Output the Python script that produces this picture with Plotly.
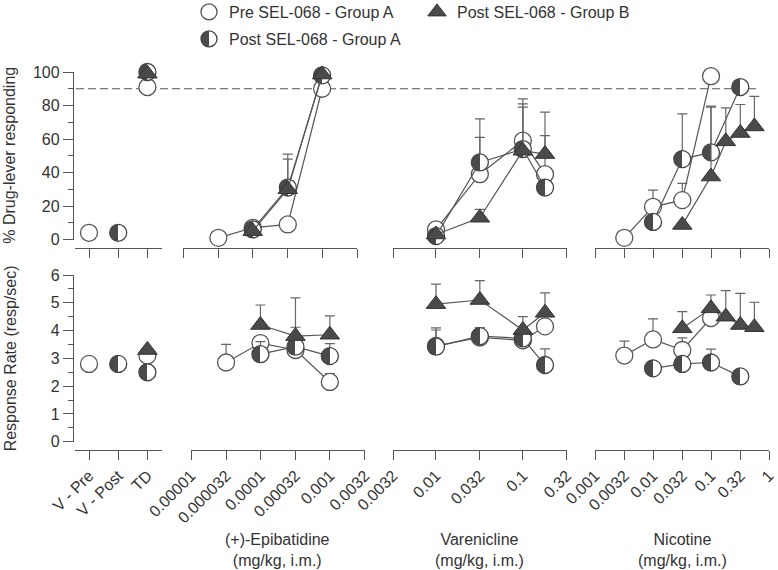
import math
import plotly.graph_objects as go

# ------------------------------------------------------------------ data
ctrl_labels = ["V - Pre", "V - Post", "TD"]

epi_ticks = [0.00001, 0.000032, 0.0001, 0.00032, 0.001, 0.0032]
epi_ticktext = ["0.00001", "0.000032", "0.0001", "0.00032", "0.001", "0.0032"]
var_ticks = [0.0032, 0.01, 0.032, 0.1, 0.32]
var_ticktext = ["0.0032", "0.01", "0.032", "0.1", "0.32"]
nic_ticks = [0.001, 0.0032, 0.01, 0.032, 0.1, 0.32, 1]
nic_ticktext = ["0.001", "0.0032", "0.01", "0.032", "0.1", "0.32", "1"]

# controls
ctrl_preA_x = ["V - Pre", "TD"]
ctrl_preA_pct = [4, 91]
ctrl_preA_rate = [2.8, 3.1]
ctrl_postA_x = ["V - Post", "TD"]
ctrl_postA_pct = [4, 100]
ctrl_postA_rate = [2.8, 2.5]
ctrl_postB_x = ["TD"]
ctrl_postB_pct = [99]
ctrl_postB_rate = [3.3]

# (+)-Epibatidine
epi_preA_dose = [0.000032, 0.0001, 0.00032, 0.001]
epi_preA_pct = [1, 7, 9, 90]
epi_preA_pct_err = [0, 0, 0, 0]
epi_preA_rate = [2.85, 3.55, 3.3, 2.15]
epi_preA_rate_err = [0.65, 0.2, 0, 0.3]

epi_postA_dose = [0.0001, 0.00032, 0.001]
epi_postA_pct = [6, 31, 98]
epi_postA_pct_err = [0, 17, 0]
epi_postA_rate = [3.15, 3.42, 3.08]
epi_postA_rate_err = [0.45, 0.7, 0.45]

epi_postB_dose = [0.0001, 0.00032, 0.001]
epi_postB_pct = [5, 30, 98.5]
epi_postB_pct_err = [0, 21, 0]
epi_postB_rate = [4.2, 3.8, 3.85]
epi_postB_rate_err = [0.72, 1.38, 0.68]

# Varenicline
var_preA_dose = [0.01, 0.032, 0.1, 0.18]
var_preA_pct = [6, 39, 59, 39]
var_preA_pct_err = [0, 22, 25, 23]
var_preA_rate = [3.45, 3.75, 3.65, 4.15]
var_preA_rate_err = [0.65, 0.35, 0.3, 0]

var_postA_dose = [0.01, 0.032, 0.1, 0.18]
var_postA_pct = [2, 46, 54, 31]
var_postA_pct_err = [0, 26, 27, 0]
var_postA_rate = [3.42, 3.8, 3.72, 2.76]
var_postA_rate_err = [0.6, 0.3, 0, 0.58]

var_postB_dose = [0.01, 0.032, 0.1, 0.18]
var_postB_pct = [3, 13, 53, 51]
var_postB_pct_err = [0, 5, 26, 25]
var_postB_rate = [4.95, 5.1, 4.02, 4.64]
var_postB_rate_err = [0.72, 0.7, 0.48, 0.72]

# Nicotine
nic_preA_dose = [0.0032, 0.01, 0.032, 0.1]
nic_preA_pct = [1, 19.5, 23.5, 97.5]
nic_preA_pct_err = [0, 10, 10, 0]
nic_preA_rate = [3.1, 3.68, 3.3, 4.45]
nic_preA_rate_err = [0.52, 0.74, 0.44, 0]

nic_postA_dose = [0.01, 0.032, 0.1, 0.32]
nic_postA_pct = [10.5, 48, 52, 91]
nic_postA_pct_err = [0, 27, 27, 4]
nic_postA_rate = [2.64, 2.8, 2.85, 2.35]
nic_postA_rate_err = [0, 0, 0.48, 0]

nic_postB_dose = [0.032, 0.1, 0.18, 0.32, 0.56]
nic_postB_pct = [8.7, 37.6, 58.6, 63.6, 67.5]
nic_postB_pct_err = [0, 42, 20, 17, 18]
nic_postB_rate = [4.08, 4.8, 4.5, 4.2, 4.12]
nic_postB_rate_err = [0.6, 0.48, 0.94, 1.14, 0.9]

series_names = ["Pre SEL-068 - Group A", "Post SEL-068 - Group A", "Post SEL-068 - Group B"]

# ------------------------------------------------------------------ layout geometry (pixels)
W, H = 778, 570
ML, MR, MT, MB = 73, 9, 72, 120
PW, PH = W - ML - MR, H - MT - MB


def px_x(p):
    return (p - ML) / PW


def px_y(p):
    return (H - MB - p) / PH


AX = "#555555"
TXT = "#333333"
DARK = "#4a4a4a"
FONT = "Liberation Sans, Arial, sans-serif"

styles = {
    "preA": dict(symbol="circle", size=17, color="white", line=dict(color="#555555", width=1.3)),
    "postA": dict(symbol="circle", size=17, color=DARK, line=dict(color="#444444", width=1.3),
                  gradient=dict(type="horizontal", color="white")),
    "postB": dict(symbol="triangle-up", size=17, color=DARK, line=dict(color="#333333", width=1)),
}

fig = go.Figure()


def add(group, xs, ys, errs, xa, ya, lines=True, legend=None, name=None):
    err = None
    if errs is not None and any(e > 0 for e in errs):
        err = dict(type="data", symmetric=False, array=errs, arrayminus=[0] * len(errs),
                   color="#666666", thickness=1.2, width=5)
    fig.add_trace(go.Scatter(
        x=xs, y=ys, xaxis=xa, yaxis=ya,
        mode="lines+markers" if lines else "markers",
        marker=styles[group],
        line=dict(color="#555555", width=1.2),
        error_y=err,
        cliponaxis=False,
        showlegend=legend is not None,
        legend=legend if legend else "legend",
        name=name if name else group,
        hoverinfo="skip",
    ))


groups = [
    ("preA", ctrl_preA_x, ctrl_preA_pct, ctrl_preA_rate,
     [(epi_preA_dose, epi_preA_pct, epi_preA_pct_err, epi_preA_rate, epi_preA_rate_err),
      (var_preA_dose, var_preA_pct, var_preA_pct_err, var_preA_rate, var_preA_rate_err),
      (nic_preA_dose, nic_preA_pct, nic_preA_pct_err, nic_preA_rate, nic_preA_rate_err)],
     "legend", series_names[0]),
    ("postA", ctrl_postA_x, ctrl_postA_pct, ctrl_postA_rate,
     [(epi_postA_dose, epi_postA_pct, epi_postA_pct_err, epi_postA_rate, epi_postA_rate_err),
      (var_postA_dose, var_postA_pct, var_postA_pct_err, var_postA_rate, var_postA_rate_err),
      (nic_postA_dose, nic_postA_pct, nic_postA_pct_err, nic_postA_rate, nic_postA_rate_err)],
     "legend3", series_names[1]),
    ("postB", ctrl_postB_x, ctrl_postB_pct, ctrl_postB_rate,
     [(epi_postB_dose, epi_postB_pct, epi_postB_pct_err, epi_postB_rate, epi_postB_rate_err),
      (var_postB_dose, var_postB_pct, var_postB_pct_err, var_postB_rate, var_postB_rate_err),
      (nic_postB_dose, nic_postB_pct, nic_postB_pct_err, nic_postB_rate, nic_postB_rate_err)],
     "legend2", series_names[2]),
]

for g, cx, cpct, crate, drugs, leg, nm in groups:
    add(g, cx, cpct, None, "x", "y", lines=False, legend=leg, name=nm)
    add(g, cx, crate, None, "x5", "y2", lines=False)
    for i, (d, pct, pe, rate, re) in enumerate(drugs):
        add(g, d, pct, pe, "x%d" % (i + 2), "y")
        add(g, d, rate, re, "x%d" % (i + 6), "y2")

# axes
common = dict(showline=True, linecolor=AX, linewidth=1.3, ticks="outside", tickcolor=AX,
              tickwidth=1.3, ticklen=9, showgrid=False, zeroline=False, automargin=False,
              tickfont=dict(size=16, color=TXT, family=FONT), fixedrange=True)

pos_top = px_y(248)
pos_bot = px_y(450)

seg_px_top = [(75, 162), (183.3, 357.2), (393, 566.7), (595, 769)]
seg_px_bot = [(75, 162), (191, 364.9), (393, 566.7), (595, 769)]
log_ticks = [(epi_ticks, epi_ticktext), (var_ticks, var_ticktext), (nic_ticks, nic_ticktext)]

lay = {}
for row, (segs, pos, base) in enumerate([(seg_px_top, pos_top, 1), (seg_px_bot, pos_bot, 5)]):
    for k in range(4):
        key = "xaxis" if (base + k) == 1 else "xaxis%d" % (base + k)
        a = dict(common)
        a.update(domain=[px_x(segs[k][0]), px_x(segs[k][1])], anchor="free", position=pos,
                 showticklabels=(row == 1), tickangle=-45)
        if k == 0:
            a.update(type="category", categoryorder="array", categoryarray=ctrl_labels,
                     range=[-0.48, 2.5])
        else:
            tv, tt = log_ticks[k - 1]
            a.update(type="log", range=[math.log10(tv[0]), math.log10(tv[-1])],
                     tickmode="array", tickvals=tv, ticktext=tt)
        lay[key] = a

ya = dict(common)
ya.update(domain=[px_y(239.5), px_y(72)], range=[0, 100], tickmode="array",
          tickvals=[0, 20, 40, 60, 80, 100], anchor="free", position=0, ticklen=10,
          minor=dict(dtick=10, ticklen=5, tickcolor=AX, tickwidth=1.3, ticks="outside"))
lay["yaxis"] = ya
ya2 = dict(common)
ya2.update(domain=[px_y(441.7), px_y(275)], range=[0, 6], tickmode="array",
           tickvals=[0, 1, 2, 3, 4, 5, 6], anchor="free", position=0, ticklen=10,
           minor=dict(dtick=0.5, ticklen=5, tickcolor=AX, tickwidth=1.3, ticks="outside"))
lay["yaxis2"] = ya2

leg_common = dict(orientation="h", bgcolor="rgba(0,0,0,0)", borderwidth=0,
                  font=dict(size=16, color=TXT, family=FONT), xanchor="left",
                  yanchor="middle", itemclick=False, itemdoubleclick=False)
lay["legend"] = dict(leg_common, x=px_x(189), y=px_y(12))
lay["legend2"] = dict(leg_common, x=px_x(417), y=px_y(12))
lay["legend3"] = dict(leg_common, x=px_x(189), y=px_y(39))

annotations = [
    dict(text="% Drug-lever responding", textangle=-90, xref="paper", yref="paper",
         x=px_x(10), y=px_y((72 + 239.5) / 2), showarrow=False,
         font=dict(size=16, color=TXT, family=FONT), xanchor="center", yanchor="middle"),
    dict(text="Response Rate (resp/sec)", textangle=-90, xref="paper", yref="paper",
         x=px_x(10), y=px_y((275 + 441.7) / 2), showarrow=False,
         font=dict(size=16, color=TXT, family=FONT), xanchor="center", yanchor="middle"),
]
for xa_name, title in [("x6", "(+)-Epibatidine"), ("x7", "Varenicline"), ("x8", "Nicotine")]:
    annotations.append(dict(text=title + "<br>(mg/kg, i.m.)", xref=xa_name + " domain",
                            x=0.5, yref="paper", y=px_y(550), showarrow=False,
                            font=dict(size=16, color=TXT, family=FONT),
                            xanchor="center", yanchor="middle"))

fig.update_layout(
    width=W, height=H, margin=dict(l=ML, r=MR, t=MT, b=MB, autoexpand=False),
    paper_bgcolor="white", plot_bgcolor="rgba(0,0,0,0)",
    font=dict(family=FONT, size=16, color=TXT),
    annotations=annotations,
    shapes=[dict(type="line", xref="paper", yref="y", x0=px_x(76), x1=px_x(757),
                 y0=90, y1=90, line=dict(color="#555555", width=1.2, dash="8px,4px"),
                 layer="below")],
    **lay,
)

post = """
document.documentElement.style.margin = '0';
document.body.style.margin = '0';
document.body.style.padding = '0';
var gd = document.getElementById('{plot_id}');
function halfFill(){
  gd.querySelectorAll('linearGradient stop').forEach(function(s){ s.setAttribute('offset','50%'); });
}
halfFill();
gd.on('plotly_afterplot', halfFill);
"""

fig.write_html("out.html", post_script=post, config={"displayModeBar": False})
